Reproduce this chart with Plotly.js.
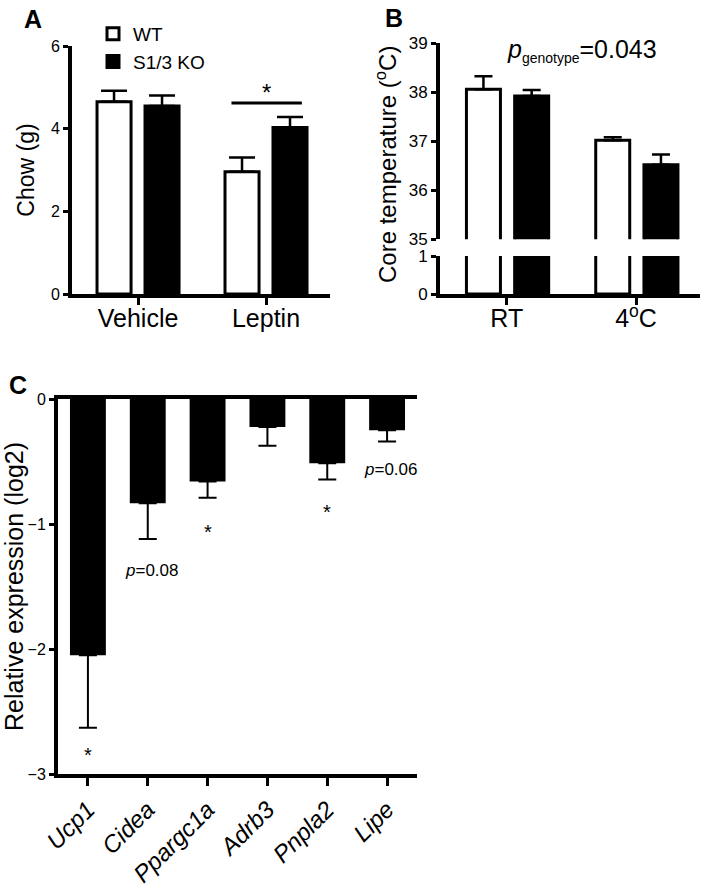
<!DOCTYPE html>
<html>
<head>
<meta charset="utf-8">
<script src="https://cdn.plot.ly/plotly-3.0.1.min.js"></script>
<style>html,body{margin:0;padding:0;background:#fff;}#chart{width:709px;height:894px;}</style>
</head>
<body>
<div id="chart"></div>
<script>
// ---- Panel A: chow intake ----
const groupsA = ['Vehicle', 'Leptin'];
const chowWT = [4.65, 2.96];
const chowWTErr = [0.27, 0.34];
const chowKO = [4.55, 4.03];
const chowKOErr = [0.25, 0.25];

// ---- Panel B: core temperature ----
const groupsB = ['RT', '4<sup>o</sup>C'];
const tempWT = [38.06, 37.02];
const tempWTErr = [0.26, 0.06];
const tempKO = [37.92, 36.52];
const tempKOErr = [0.12, 0.21];

// ---- Panel C: relative expression ----
const genes = ['Ucp1', 'Cidea', 'Ppargc1a', 'Adrb3', 'Pnpla2', 'Lipe'];
const exprKO = [-2.05, -0.835, -0.66, -0.225, -0.515, -0.25];
const exprErr = [0.58, 0.285, 0.13, 0.15, 0.13, 0.09];

const FONT = 'Arial, "Liberation Sans", Helvetica, sans-serif';
const W = 709, H = 894;
const px = v => v / W;
const py = v => 1 - v / H;
const zeros = n => new Array(n).fill(0);

const wtMarker = {color: '#ffffff', line: {color: '#000', width: 3}};
const koMarker = {color: '#000000', line: {color: '#000', width: 3}};
const errUp = (arr, w) => ({type: 'data', array: arr, arrayminus: zeros(arr.length), symmetric: false, color: '#000', thickness: 2.5, width: w});

const data = [
  // A
  {type: 'bar', name: 'WT', x: groupsA, y: chowWT, xaxis: 'x', yaxis: 'y',
   width: 0.266, offset: -0.3205, marker: wtMarker, error_y: errUp(chowWTErr, 13), hoverinfo: 'skip'},
  {type: 'bar', name: 'S1/3 KO', x: groupsA, y: chowKO, xaxis: 'x', yaxis: 'y',
   width: 0.266, offset: 0.0545, marker: koMarker, error_y: errUp(chowKOErr, 13), hoverinfo: 'skip'},
  // B upper
  {type: 'bar', name: 'WT', showlegend: false, x: groupsB, y: tempWT, xaxis: 'x2', yaxis: 'y2',
   width: 0.263, offset: -0.3115, marker: wtMarker, error_y: errUp(tempWTErr, 9), hoverinfo: 'skip'},
  {type: 'bar', name: 'S1/3 KO', showlegend: false, x: groupsB, y: tempKO, xaxis: 'x2', yaxis: 'y2',
   width: 0.263, offset: 0.0615, marker: koMarker, error_y: errUp(tempKOErr, 9), hoverinfo: 'skip'},
  // B lower (broken axis)
  {type: 'bar', name: 'WT', showlegend: false, x: groupsB, y: tempWT, xaxis: 'x2', yaxis: 'y3',
   width: 0.263, offset: -0.3115, marker: wtMarker, hoverinfo: 'skip'},
  {type: 'bar', name: 'S1/3 KO', showlegend: false, x: groupsB, y: tempKO, xaxis: 'x2', yaxis: 'y3',
   width: 0.263, offset: 0.0615, marker: koMarker, hoverinfo: 'skip'},
  // C
  {type: 'bar', name: 'S1/3 KO', showlegend: false, x: genes, y: exprKO, xaxis: 'x3', yaxis: 'y4',
   width: 0.6, marker: {color: '#000', line: {width: 0}},
   error_y: {type: 'data', array: zeros(exprErr.length), arrayminus: exprErr, symmetric: false, color: '#000', thickness: 2, width: 9},
   hoverinfo: 'skip'}
];

const axBase = {showgrid: false, zeroline: false, showline: true, linecolor: '#000', linewidth: 4,
  ticks: 'outside', tickcolor: '#000', tickwidth: 3, ticklen: 6, fixedrange: true};

const ann = (o) => Object.assign({showarrow: false, xanchor: 'center', yanchor: 'middle'}, o);

const layout = {
  width: W, height: H,
  margin: {l: 0, r: 0, t: 0, b: 0},
  paper_bgcolor: '#fff', plot_bgcolor: 'rgba(0,0,0,0)',
  font: {family: FONT, color: '#000'},
  barmode: 'overlay',
  showlegend: true,
  legend: {x: px(93), y: py(15), xanchor: 'left', yanchor: 'top', font: {size: 19, family: FONT},
           bgcolor: 'rgba(0,0,0,0)', tracegroupgap: 0},
  // A
  xaxis: Object.assign({}, axBase, {domain: [px(72), px(330)], anchor: 'y', type: 'category',
    range: [-0.516, 1.5], tickfont: {size: 25}, ticklen: 7, ticklabelstandoff: -8}),
  yaxis: Object.assign({}, axBase, {domain: [1 - 294 / H, 1 - 46 / H], anchor: 'x', range: [0, 6],
    tickvals: [0, 2, 4, 6], tickfont: {size: 16}, ticklen: 5,
    title: {text: 'Chow (g)', font: {size: 23}, standoff: 11}}),
  // B
  xaxis2: Object.assign({}, axBase, {domain: [px(440), px(700)], anchor: 'y3', type: 'category',
    range: [-0.516, 1.495], tickfont: {size: 25}, ticklen: 7, ticklabelstandoff: -8}),
  yaxis2: Object.assign({}, axBase, {domain: [1 - 239.3 / H, 1 - 43 / H], anchor: 'x2', range: [35, 39],
    tickvals: [35, 36, 37, 38, 39], tickfont: {size: 17}, ticklen: 5}),
  yaxis3: Object.assign({}, axBase, {domain: [1 - 294 / H, 1 - 256 / H], anchor: 'x2', range: [0, 1],
    tickvals: [0, 1], tickfont: {size: 17}, ticklen: 5}),
  // C
  xaxis3: Object.assign({}, axBase, {domain: [px(58), px(417)], anchor: 'y4', type: 'category',
    range: [-0.5, 5.5], mirror: true, tickangle: -45, ticklen: 8,
    tickfont: {size: 24, style: 'italic'}}),
  yaxis4: Object.assign({}, axBase, {domain: [1 - 774 / H, 1 - 399 / H], anchor: 'x3', range: [-3, 0],
    tickvals: [0, -1, -2, -3], tickfont: {size: 16}, ticklen: 5,
    title: {text: 'Relative expression (log2)', font: {size: 25}, standoff: 10}}),
  shapes: [
    {type: 'line', xref: 'x', yref: 'y', x0: 0.73, x1: 1.28, y0: 4.62, y1: 4.62, line: {color: '#000', width: 3}}
  ],
  annotations: [
    ann({text: '<b>A</b>', xref: 'paper', yref: 'paper', x: px(33), y: py(19), font: {size: 25}}),
    ann({text: '<b>B</b>', xref: 'paper', yref: 'paper', x: px(394), y: py(18.5), font: {size: 25}}),
    ann({text: '<b>C</b>', xref: 'paper', yref: 'paper', x: px(18), y: py(385), font: {size: 25}}),
    ann({text: '*', xref: 'x', yref: 'y', x: 1, y: 4.88, font: {size: 24}}),
    ann({text: '<i>p</i><sub><span style="font-size:14px">genotype</span></sub>=0.043', xref: 'paper', yref: 'paper',
     x: px(582), y: py(51), font: {size: 25}}),
    ann({text: 'Core temperature (<sup>o</sup>C)', xref: 'paper', yref: 'paper', x: px(386), y: py(165),
     textangle: -90, font: {size: 24}}),
    ann({text: '*', xref: 'x3', yref: 'y4', x: 0, y: -2.85, font: {size: 20}}),
    ann({text: '*', xref: 'x3', yref: 'y4', x: 2, y: -1.06, font: {size: 20}}),
    ann({text: '*', xref: 'x3', yref: 'y4', x: 4, y: -0.9, font: {size: 20}}),
    ann({text: '<i>p</i>=0.08', xref: 'x3', yref: 'y4', x: 1.06, y: -1.374, font: {size: 17}}),
    ann({text: '<i>p</i>=0.06', xref: 'x3', yref: 'y4', x: 5.05, y: -0.562, font: {size: 17}})
  ]
};

Plotly.newPlot('chart', data, layout, {displayModeBar: false, staticPlot: true});
</script>
</body>
</html>
